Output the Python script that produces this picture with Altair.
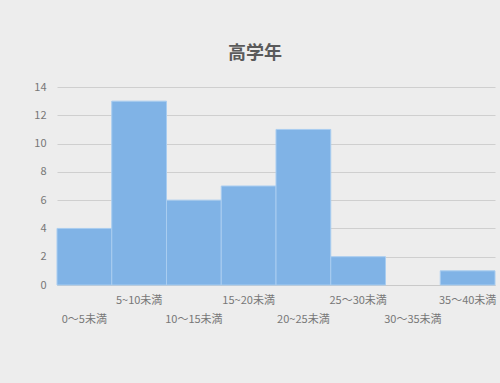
import altair as alt
import pandas as pd
import json

categories = ["0～5未満", "5~10未満", "10～15未満", "15~20未満",
              "20~25未満", "25～30未満", "30～35未満", "35～40未満"]
counts = [4, 13, 6, 7, 11, 2, 0, 1]
y_ticks = [0, 2, 4, 6, 8, 10, 12, 14]

df = pd.DataFrame({"range": categories, "count": counts})
lower_row = categories[0::2]
test_expr = "indexof(" + json.dumps(lower_row, ensure_ascii=False) + ", datum.value) >= 0"

FONT = "Noto Sans CJK JP"

chart = alt.Chart(df).mark_bar(
    color="#80b3e6", stroke="#a9cdf0", strokeWidth=1
).encode(
    x=alt.X("range:N", sort=categories, title=None,
            scale=alt.Scale(paddingInner=0, paddingOuter=0),
            axis=alt.Axis(labelAngle=0, labelOverlap=False, ticks=False,
                          domain=True, domainColor="#c9c9c9",
                          labelFont=FONT, labelFontSize=11, labelColor="#777777",
                          labelBaseline="top",
                          labelPadding=alt.condition(test_expr, alt.value(28), alt.value(9)))),
    y=alt.Y("count:Q", title=None,
            scale=alt.Scale(domain=[0, 14], nice=False),
            axis=alt.Axis(values=y_ticks, ticks=False, domain=False,
                          gridColor="#cfcfcf", labelFont=FONT, labelFontSize=11,
                          labelColor="#777777", labelPadding=11)),
    strokeOpacity=alt.condition("datum.count > 0", alt.value(1), alt.value(0)),
).properties(
    width=438, height=198,
    title=alt.TitleParams("高学年", font=FONT, fontSize=18, fontWeight="bold",
                          color="#5a5a5a", offset=18, dx=-21),
    autosize=alt.AutoSizeParams(type="none"),
    padding={"left": 57, "top": 87, "right": 5, "bottom": 98},
    background="#ededed",
).configure_view(stroke=None)

chart.save("out.html", embed_options={"renderer": "svg", "actions": False})
